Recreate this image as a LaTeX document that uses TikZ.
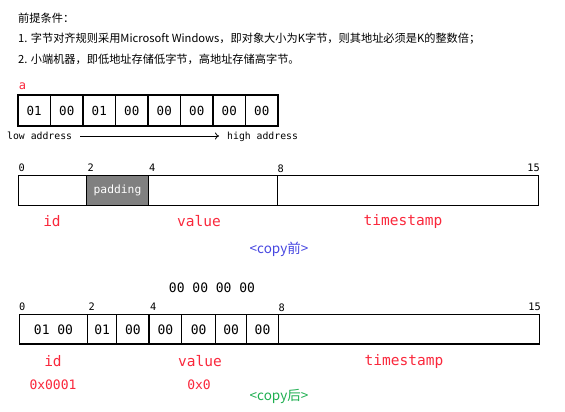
\documentclass[tikz,border=0pt]{standalone}
\usepackage{fontspec}
\usetikzlibrary{arrows.meta}
\newfontfamily\cjk{Noto Sans CJK SC}
\newfontfamily\mono{DejaVu Sans Mono}
\definecolor{lblred}{RGB}{250,40,60}
\definecolor{cpblue}{RGB}{70,70,225}
\definecolor{cpgreen}{RGB}{30,175,80}
\definecolor{padgray}{RGB}{128,128,128}
\tikzset{
  cell/.style={draw=black, line width=1.1pt, inner sep=0pt, outer sep=0pt, anchor=north west, minimum height=#1},
  cell/.default=30pt,
  hdr/.style={anchor=west, inner sep=0pt, font=\cjk\fontsize{11.2}{13}\selectfont},
  celltxt/.style={font=\mono\fontsize{13}{15}\selectfont},
  tick/.style={inner sep=0pt, font=\mono\fontsize{10.3}{12}\selectfont},
  addr/.style={inner sep=0pt, font=\mono\fontsize{9.8}{12}\selectfont},
  fieldlbl/.style={inner sep=0pt, text=lblred, font=\mono\fontsize{14.5}{16}\selectfont},
  hexlbl/.style={inner sep=0pt, text=lblred, font=\mono\fontsize{13}{16}\selectfont},
  copylbl/.style={inner sep=0pt, font=\cjk\fontsize{13.5}{15}\selectfont},
}
\begin{document}
\begin{tikzpicture}[x=1pt,y=-1pt]
\useasboundingbox[fill=white] (0,0) rectangle (565,412);
% header
\node[hdr] (h0) at (18,18) {前提条件：};
\node[hdr] (h1) at (18,38.5) {1. 字节对齐规则采用Microsoft Windows，即对象大小为K字节，则其地址必须是K的整数倍；};
\node[hdr] (h2) at (18,59) {2. 小端机器，即低地址存储低字节，高地址存储高字节。};
% a
\node[inner sep=0pt, text=lblred, font=\mono\fontsize{12}{14}\selectfont] (a) at (22.5,86) {a};
\foreach \i/\t in {0/01,1/00,2/01,3/00,4/00,5/00,6/00,7/00}{
  \node[cell, minimum width=32.5pt, minimum height=31pt] (c\i) at ({18+32.5*\i},95) {};
  \node[celltxt, font=\mono\fontsize{12.5}{14}\selectfont] (ct\i) at ({18+32.5*\i+16.25},110.5) {\t};
}
\node[addr, anchor=west] (low) at (7,135.5) {low address};
\node[addr, anchor=west] (high) at (227,136.5) {high address};
\coordinate (arS) at (80,136);
\coordinate (arE) at (219,136);
\draw[line width=0.8pt, -{To[length=4pt,width=7pt]}] (arS) -- (arE);
% before copy
\node[tick, anchor=west] (t0) at (18.5,167.5) {0};
\node[tick, anchor=west] (t2) at (87.5,167.5) {2};
\node[tick, anchor=west] (t4) at (149,167.5) {4};
\node[tick, anchor=west] (t8) at (277.5,168.5) {8};
\node[tick, anchor=east] (t15) at (540,167.5) {15};
\node[cell, minimum width=68.5pt] (b1) at (18.3,175.3) {};
\node[cell, minimum width=61.5pt, fill=padgray] (b2) at (86.8,175.3) {};
\node[text=white, inner sep=0pt, font=\mono\fontsize{11.3}{14}\selectfont] (pad) at (117.5,190.3) {padding};
\node[cell, minimum width=129pt] (b3) at (148.3,175.3) {};
\node[cell, minimum width=261.2pt] (b4) at (277.3,175.3) {};
\node[fieldlbl] (id1) at (52,221.5) {id};
\node[fieldlbl] (val1) at (199,221.5) {value};
\node[fieldlbl] (ts1) at (403,221.5) {timestamp};
\node[copylbl, text=cpblue] (cp1) at (279,249) {<copy前>};
% after copy
\node[celltxt] (zeros) at (212,287.5) {00 00 00 00};
\node[tick, anchor=west] (u0) at (19,306.5) {0};
\node[tick, anchor=west] (u2) at (88.5,306.5) {2};
\node[tick, anchor=west] (u4) at (150,306.5) {4};
\node[tick, anchor=west] (u8) at (278.5,307.5) {8};
\node[tick, anchor=east] (u15) at (541,306.5) {15};
\foreach \n/\xa/\xb/\t in {d0/19.3/87.7/{01 00},d1/87.7/116.7/01,d2/116.7/149/00,d3/149/181.7/00,d4/181.7/215.7/00,d5/215.7/246.7/00,d6/246.7/278.3/00}{
  \node[cell, minimum width={\xb pt-\xa pt}, minimum height=29.7pt] (\n) at (\xa,314.3) {};
  \node[celltxt] (\n t) at ({(\xa+\xb)/2},330) {\t};
}
\node[cell, minimum width=261.2pt, minimum height=29.7pt] (d7) at (278.3,314.3) {};
\node[fieldlbl] (id2) at (53,361) {id};
\node[fieldlbl] (val2) at (200,361) {value};
\node[fieldlbl] (ts2) at (404,361) {timestamp};
\node[hexlbl] (hx1) at (53,385) {0x0001};
\node[hexlbl] (hx2) at (199,384.5) {0x0};
\node[copylbl, text=cpgreen] (cp2) at (279,396.5) {<copy后>};
\end{tikzpicture}
\end{document}
